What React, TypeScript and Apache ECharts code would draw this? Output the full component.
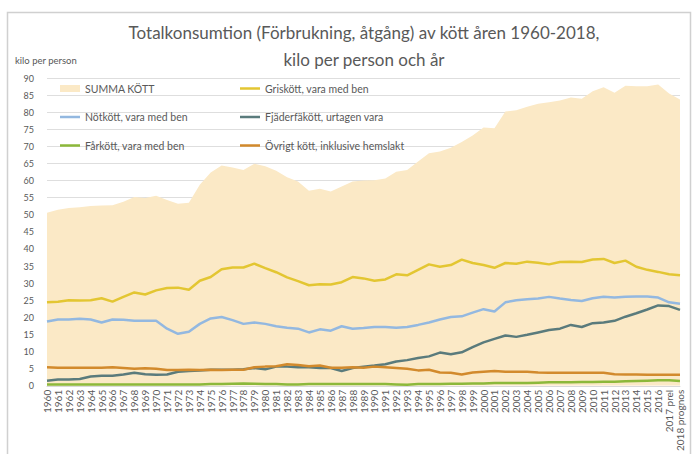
import React, { useEffect, useRef } from "react";
import * as echarts from "echarts";

// Year categories on the x axis (the two last years are preliminary / forecast)
const years: string[] = [
  "1960", "1961", "1962", "1963", "1964", "1965", "1966", "1967", "1968", "1969",
  "1970", "1971", "1972", "1973", "1974", "1975", "1976", "1977", "1978", "1979",
  "1980", "1981", "1982", "1983", "1984", "1985", "1986", "1987", "1988", "1989",
  "1990", "1991", "1992", "1993", "1994", "1995", "1996", "1997", "1998", "1999",
  "2000", "2001", "2002", "2003", "2004", "2005", "2006", "2007", "2008", "2009",
  "2010", "2011", "2012", "2013", "2014", "2015", "2016", "2017 prel", "2018 prognos",
];

// kilo per person och år
const summaKott: number[] = [
  50.6, 51.5, 52.0, 52.2, 52.6, 52.7, 52.8, 53.8, 55.2, 54.9,
  55.6, 54.3, 53.2, 53.5, 58.8, 62.4, 64.4, 63.8, 63.1, 64.9,
  64.2, 62.9, 61.0, 59.7, 57.0, 57.6, 56.8, 58.3, 59.7, 60.0,
  60.1, 60.6, 62.6, 63.1, 65.6, 68.0, 68.5, 69.6, 71.3, 73.2,
  75.5, 75.3, 80.2, 80.6, 81.6, 82.5, 82.9, 83.4, 84.3, 83.9,
  86.1, 87.3, 85.7, 87.7, 87.6, 87.6, 88.1, 85.5, 83.7,
];

const griskott: number[] = [
  24.4, 24.6, 25.0, 24.9, 25.0, 25.6, 24.6, 26.0, 27.3, 26.7,
  27.9, 28.6, 28.7, 28.1, 30.7, 31.8, 34.1, 34.6, 34.6, 35.7,
  34.4, 33.2, 31.7, 30.6, 29.4, 29.7, 29.6, 30.3, 31.8, 31.4,
  30.7, 31.1, 32.6, 32.3, 33.9, 35.5, 34.8, 35.3, 36.9, 35.9,
  35.3, 34.5, 35.9, 35.7, 36.3, 36.0, 35.5, 36.2, 36.3, 36.2,
  36.9, 37.1, 35.9, 36.6, 34.8, 33.9, 33.3, 32.6, 32.3,
];

const notkott: number[] = [
  18.8, 19.4, 19.4, 19.6, 19.4, 18.5, 19.4, 19.3, 19.0, 19.0,
  19.0, 16.7, 15.2, 15.8, 18.1, 19.7, 20.1, 19.2, 18.1, 18.5,
  18.1, 17.4, 17.0, 16.7, 15.6, 16.5, 16.1, 17.4, 16.7, 16.9,
  17.2, 17.2, 17.0, 17.2, 17.8, 18.5, 19.4, 20.1, 20.3, 21.4,
  22.4, 21.7, 24.4, 25.0, 25.3, 25.5, 26.0, 25.5, 25.1, 24.8,
  25.6, 26.0, 25.8, 26.0, 26.1, 26.1, 25.8, 24.4, 24.0,
];

const fjaderfakott: number[] = [
  1.5, 1.8, 1.8, 2.0, 2.7, 2.9, 2.9, 3.3, 3.8, 3.4,
  3.2, 3.3, 4.1, 4.3, 4.5, 4.7, 4.7, 4.7, 4.8, 5.2,
  4.8, 5.6, 5.6, 5.4, 5.4, 5.2, 5.2, 4.3, 5.2, 5.6,
  5.9, 6.3, 7.1, 7.5, 8.1, 8.6, 9.7, 9.2, 9.8, 11.3,
  12.7, 13.7, 14.7, 14.3, 14.9, 15.6, 16.3, 16.7, 17.8, 17.2,
  18.3, 18.5, 19.0, 20.2, 21.2, 22.3, 23.5, 23.3, 22.2,
];

const farkott: number[] = [
  0.4, 0.4, 0.4, 0.4, 0.4, 0.4, 0.4, 0.4, 0.4, 0.4,
  0.4, 0.4, 0.4, 0.4, 0.4, 0.5, 0.5, 0.6, 0.7, 0.6,
  0.5, 0.5, 0.4, 0.4, 0.5, 0.5, 0.5, 0.5, 0.5, 0.5,
  0.5, 0.5, 0.4, 0.3, 0.5, 0.5, 0.5, 0.6, 0.6, 0.7,
  0.7, 0.8, 0.8, 0.8, 0.8, 0.9, 1.0, 1.0, 1.0, 1.1,
  1.1, 1.2, 1.2, 1.3, 1.4, 1.5, 1.6, 1.6, 1.4,
];

const ovrigtKott: number[] = [
  5.4, 5.3, 5.3, 5.3, 5.3, 5.3, 5.4, 5.2, 5.0, 5.1,
  5.0, 4.6, 4.6, 4.7, 4.6, 4.7, 4.6, 4.7, 4.7, 5.4,
  5.6, 5.7, 6.3, 6.1, 5.7, 5.9, 5.3, 5.3, 5.4, 5.3,
  5.6, 5.4, 5.2, 5.0, 4.5, 4.7, 3.9, 3.8, 3.3, 3.9,
  4.1, 4.3, 4.1, 4.1, 4.1, 3.9, 3.8, 3.8, 3.8, 3.8,
  3.8, 3.8, 3.4, 3.3, 3.3, 3.2, 3.2, 3.2, 3.2,
];

const FONT = "Lato, 'Liberation Sans', sans-serif";
const TEXT_GREY = "#595959";

const lineSeries = [
  { name: "Griskött, vara med ben", data: griskott, color: "#e3c632" },
  { name: "Nötkött, vara med ben", data: notkott, color: "#93b8e0" },
  { name: "Fjäderfäkött, urtagen vara", data: fjaderfakott, color: "#5a7b7c" },
  { name: "Fårkött, vara med ben", data: farkott, color: "#8cb83a" },
  { name: "Övrigt kött, inklusive hemslakt", data: ovrigtKott, color: "#d28a2c" },
];

const AREA_NAME = "SUMMA KÖTT";
const AREA_COLOR = "#fbe9c6";

// legend placement: two columns, three rows
const legendCells: { name: string; left: number; top: number; area?: boolean }[] = [
  { name: AREA_NAME, left: 60, top: 83, area: true },
  { name: "Griskött, vara med ben", left: 240, top: 83 },
  { name: "Nötkött, vara med ben", left: 60, top: 111.5 },
  { name: "Fjäderfäkött, urtagen vara", left: 240, top: 111.5 },
  { name: "Fårkött, vara med ben", left: 60, top: 140 },
  { name: "Övrigt kött, inklusive hemslakt", left: 240, top: 140 },
];

export default function App() {
  const ref = useRef<HTMLDivElement>(null);

  useEffect(() => {
    if (!ref.current) return;
    const chart = echarts.init(ref.current, undefined, { renderer: "svg" });

    const option: echarts.EChartsOption = {
      animation: false,
      backgroundColor: "#ffffff",
      textStyle: { fontFamily: FONT },
      title: {
        text: "Totalkonsumtion (Förbrukning, åtgång) av kött åren 1960-2018,\nkilo per person och år",
        left: 359,
        top: 14,
        textAlign: "center",
        textStyle: {
          fontFamily: FONT,
          fontSize: 17,
          fontWeight: "normal",
          color: TEXT_GREY,
          lineHeight: 27,
        },
      },
      legend: legendCells.map((c) => ({
        data: [{ name: c.name, icon: "rect" }],
        left: c.left,
        top: c.top,
        padding: 0,
        itemWidth: 20,
        itemHeight: c.area ? 7 : 2.5,
        selectedMode: false,
        textStyle: { fontFamily: FONT, fontSize: 10.5, color: TEXT_GREY },
      })),
      grid: { left: 47, right: 20, top: 78, bottom: 44 },
      xAxis: {
        type: "category",
        data: years,
        boundaryGap: false,
        axisLine: { lineStyle: { color: "#d9d9d9" } },
        axisTick: { show: false },
        axisLabel: {
          interval: 0,
          rotate: 90,
          fontSize: 10,
          margin: 4,
          color: TEXT_GREY,
          fontFamily: FONT,
        },
      },
      yAxis: {
        type: "value",
        min: 0,
        max: 90,
        interval: 5,
        axisLine: { show: false },
        axisTick: { show: false },
        axisLabel: { fontSize: 9, margin: 13, color: TEXT_GREY, fontFamily: FONT },
        splitLine: { lineStyle: { color: "#dedede", width: 1 } },
      },
      graphic: [
        {
          type: "rect",
          shape: { x: 7.5, y: 12.5, width: 683, height: 470 },
          style: { fill: "none", stroke: "#d0d0d0", lineWidth: 1.5 },
          silent: true,
        },
        {
          type: "text",
          left: 15,
          top: 55,
          style: { text: "kilo per person", fontSize: 9.5, fill: TEXT_GREY, fontFamily: FONT },
          silent: true,
        },
      ],
      series: [
        {
          name: AREA_NAME,
          type: "line",
          data: summaKott,
          symbol: "none",
          lineStyle: { width: 0, color: AREA_COLOR },
          itemStyle: { color: AREA_COLOR },
          areaStyle: { color: AREA_COLOR, opacity: 1 },
          z: 1,
        },
        ...lineSeries.map((s) => ({
          name: s.name,
          type: "line" as const,
          data: s.data,
          symbol: "none",
          lineStyle: { width: 2.5, color: s.color },
          itemStyle: { color: s.color },
          z: 3,
        })),
      ],
    };

    chart.setOption(option);
    return () => chart.dispose();
  }, []);

  return (
    <div
      ref={ref}
      style={{ position: "fixed", left: 0, top: 0, width: 700, height: 454 }}
    />
  );
}
